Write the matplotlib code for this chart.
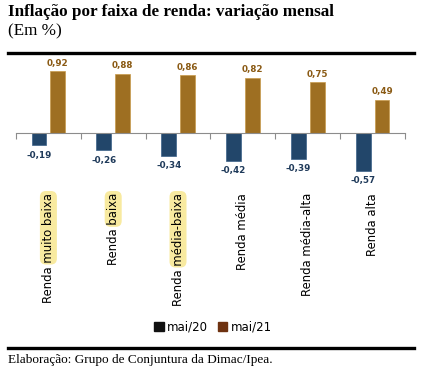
import matplotlib
matplotlib.use("Agg")
from matplotlib import pyplot as plt
from matplotlib.patches import Patch, FancyBboxPatch

# data
categories = ["Renda muito baixa", "Renda baixa", "Renda média-baixa",
              "Renda média", "Renda média-alta", "Renda alta"]
highlighted = ["muito baixa", "baixa", "média-baixa", None, None, None]
mai20 = [-0.19, -0.26, -0.34, -0.42, -0.39, -0.57]
mai21 = [0.92, 0.88, 0.86, 0.82, 0.75, 0.49]
series_names = ["mai/20", "mai/21"]

W, H = 425, 379
fig = plt.figure(figsize=(W / 100, H / 100), dpi=100)
fig.patch.set_facecolor("white")

def fx(px):
    return px / W

def fy(py):
    return 1 - py / H

#---------------------------------
# header / footer
fig.text(fx(8), fy(4), "Inflação por faixa de renda: variação mensal",
         family="Liberation Serif", weight="bold", fontsize=12.3, va="top", ha="left")
fig.text(fx(8), fy(23), "(Em %)", family="Liberation Serif", fontsize=12.3, va="top", ha="left")
fig.add_artist(plt.Line2D([fx(8), fx(414)], [fy(53), fy(53)], color="black", lw=2.4))
fig.add_artist(plt.Line2D([fx(8), fx(414)], [fy(348), fy(348)], color="black", lw=2.4))
fig.text(fx(8), fy(360), "Elaboração: Grupo de Conjuntura da Dimac/Ipea.",
         family="Liberation Serif", fontsize=9.5, va="center", ha="left")

#---------------------------------
# bars
ymin, ymax = -0.65, 1.0
top_px, bot_px = 65.7, 176.3
ax = fig.add_axes([fx(16), fy(bot_px), fx(405) - fx(16), (bot_px - top_px) / H])
ax.set_facecolor("none")

x = list(range(len(categories)))
off, bw = 0.145, 0.23
blue, gold = "#22466a", "#9e6f22"
ax.bar([i - off for i in x], mai20, width=bw, color=blue, edgecolor="#3a6088", lw=0.5, zorder=2)
ax.bar([i + off for i in x], mai21, width=bw, color=gold, edgecolor="#c79a4a", lw=0.5, zorder=2)

for i in x:
    ax.annotate(f"{mai20[i]:.2f}".replace(".", ","), (i - off, mai20[i]), xytext=(0, -4),
                textcoords="offset points", ha="center", va="top",
                fontsize=6.3, weight="bold", color="#1f3a5a")
    ax.annotate(f"{mai21[i]:.2f}".replace(".", ","), (i + off, mai21[i]), xytext=(0, 2.5),
                textcoords="offset points", ha="center", va="bottom",
                fontsize=6.3, weight="bold", color="#8a5a14")

ax.set_xlim(-0.5, len(categories) - 0.5)
ax.set_ylim(ymin, ymax)
for s in ["top", "right", "left"]:
    ax.spines[s].set_visible(False)
ax.spines["bottom"].set_position(("data", 0))
ax.spines["bottom"].set_color("#8c8c8c")
ax.set_xticks([i - 0.5 for i in range(len(categories) + 1)])
ax.set_xticklabels([])
ax.tick_params(axis="x", length=4, color="#8c8c8c", direction="out")
ax.set_yticks([])

#---------------------------------
# rotated category labels, some parts highlighted in yellow
renderer = fig.canvas.get_renderer()
label_size = 8.4
for i, cat in enumerate(categories):
    xc = fx(16 + 64.8 * (i + 0.5))
    fig.text(xc, fy(193), cat, rotation=90, ha="center", va="top", fontsize=label_size,
             color="black", zorder=3)
    if highlighted[i]:
        # measure the highlighted part, then drop a rounded yellow box behind it
        tmp = fig.text(xc, fy(193), highlighted[i], rotation=90, ha="center", va="top",
                       fontsize=label_size)
        bb = tmp.get_window_extent(renderer)
        tmp.remove()
        pad = 2
        box = FancyBboxPatch((bb.x0 - pad, bb.y0 - pad), bb.width + 2 * pad, bb.height + 2 * pad,
                             boxstyle="round,pad=0,rounding_size=6", fc="#f8eaa0", ec="none",
                             transform=None, zorder=1)
        fig.add_artist(box)

#---------------------------------
# legend (markers in the reference differ from bar colours)
handles = [Patch(color="#111111"), Patch(color="#6e3210")]
fig.legend(handles, series_names, loc="center", bbox_to_anchor=(fx(213), fy(327)), ncol=2,
           frameon=False, fontsize=8.5, handlelength=0.8, handleheight=0.8,
           handletextpad=0.3, columnspacing=0.8)

fig.savefig("out.png", dpi=100)
